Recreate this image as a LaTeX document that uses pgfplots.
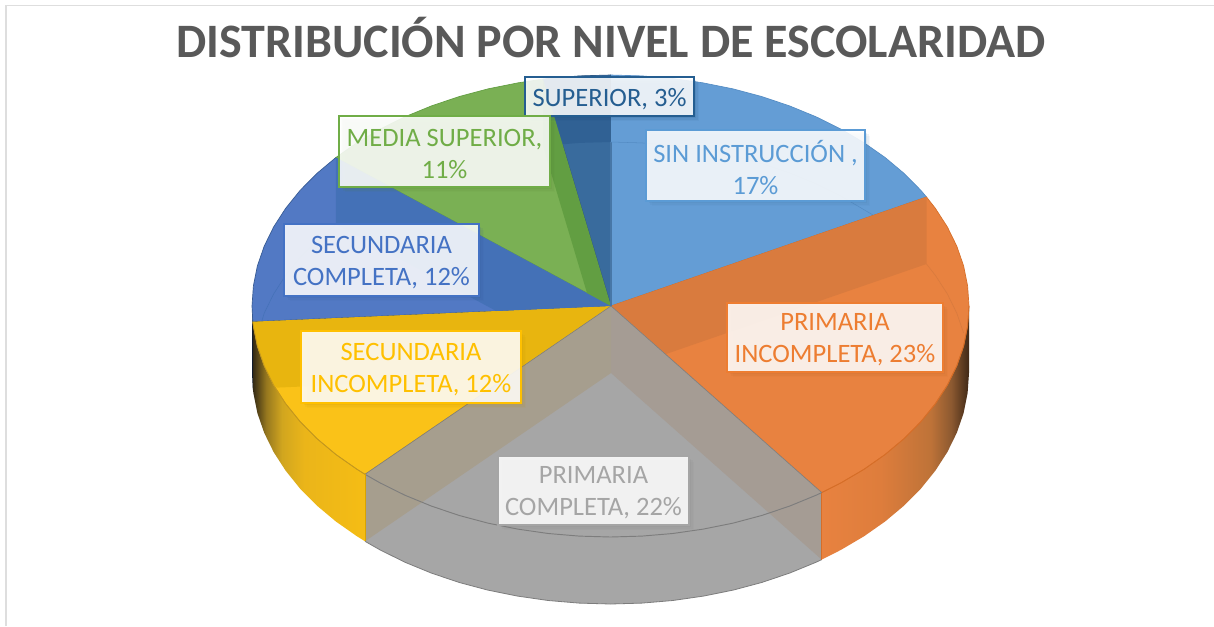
\documentclass[border=0pt]{standalone}
\usepackage{pgfplots}
\pgfplotsset{compat=1.18}
\usepackage{fontspec}
\setmainfont{Carlito}
\usetikzlibrary{shadows}
\definecolor{cBlue}{RGB}{100,157,213}
\definecolor{cBlueE}{RGB}{84,140,196}
\definecolor{cOrange}{RGB}{232,130,64}
\definecolor{cOrangeD}{RGB}{217,123,62}
\definecolor{cOrangeE}{RGB}{214,110,40}
\definecolor{cGray}{RGB}{166,166,166}
\definecolor{cGrayE}{RGB}{125,125,125}
\definecolor{cYellow}{RGB}{250,194,24}
\definecolor{cYellowD}{RGB}{232,181,15}
\definecolor{cYellowE}{RGB}{196,152,30}
\definecolor{cNavy}{RGB}{68,113,183}
\definecolor{cNavyL}{RGB}{82,121,196}
\definecolor{cGreen}{RGB}{122,176,84}
\definecolor{cGreenD}{RGB}{98,158,66}
\definecolor{cDark}{RGB}{57,107,157}
\definecolor{cDarkU}{RGB}{48,97,148}
\definecolor{cTaupeR}{RGB}{165,156,148}
\definecolor{cTaupeL}{RGB}{166,158,142}
\definecolor{tBlue}{RGB}{91,155,213}
\definecolor{tOrange}{RGB}{237,125,49}
\definecolor{tGray}{RGB}{165,165,165}
\definecolor{tYellow}{RGB}{255,192,0}
\definecolor{tNavy}{RGB}{68,114,196}
\definecolor{tGreen}{RGB}{112,173,71}
\definecolor{tDark}{RGB}{37,94,145}
\definecolor{tTitle}{RGB}{89,89,89}
\pgfdeclarehorizontalshading{orangeside}{100bp}{rgb(0bp)=(.91,.51,.25); rgb(25bp)=(.91,.51,.25); rgb(45bp)=(.87,.49,.235); rgb(62bp)=(.745,.45,.22); rgb(69bp)=(.55,.35,.19); rgb(75bp)=(.25,.16,.09); rgb(100bp)=(.25,.16,.09)}
\pgfdeclarehorizontalshading{yellowside}{100bp}{rgb(0bp)=(.2,.16,.08); rgb(25bp)=(.2,.16,.08); rgb(31bp)=(.59,.47,.12); rgb(38bp)=(.82,.65,.12); rgb(48bp)=(.92,.71,.1); rgb(75bp)=(.96,.74,.08); rgb(100bp)=(.96,.74,.08)}
\tikzset{lab/.style={rectangle,inner sep=0pt,outer sep=0pt,fill=white,fill opacity=.87,draw opacity=1,line width=1.8pt}}
\newcommand\lab[6]{\node[lab,draw=#5,minimum width=#3*0.75pt-1.8pt,minimum height=#4*0.75pt-1.8pt,
 drop shadow={shadow xshift=1pt,shadow yshift=-1pt,fill=#5!75!black,opacity=.1},
 drop shadow={shadow xshift=2pt,shadow yshift=-2pt,fill=#5!75!black,opacity=.1},
 drop shadow={shadow xshift=3pt,shadow yshift=-3pt,fill=#5!75!black,opacity=.08},
 drop shadow={shadow xshift=4pt,shadow yshift=-4pt,fill=#5!75!black,opacity=.05}] at (axis cs:#1,#2) {};
 \node[text=#5,align=center,inner sep=0pt,font=\fontsize{19.9}{24}\selectfont] at (axis cs:#1,#2+2.5) {#6};}
\begin{document}
\begin{tikzpicture}
\begin{axis}[scale only axis,width=910.5pt,height=469.5pt,xmin=0,xmax=1214,ymin=0,ymax=626,y dir=reverse,hide axis,clip=true]
% background
\addplot[fill=white,draw=none] coordinates {(0,0)(1214,0)(1214,626)(0,626)} --cycle;
\addplot[draw=black!13,line width=1.1pt] coordinates {(6,626)(6,5.5)(1214,5.5)};
% side walls
\addplot[fill=cGray,draw=none] coordinates {(821.7,492.6)(821.7,559.6)(816.1,562.2)(789.8,573)(762,582.4)(733.1,590.1)(703.3,596.1)(672.7,600.5)(641.8,603.1)(610.5,604)(579.2,603.1)(548.3,600.5)(517.7,596.1)(487.9,590.1)(459,582.4)(431.2,573)(404.9,562.2)(380.1,549.9)(365,541.3)(365,474.3)} --cycle;
\addplot[shading=orangeside,draw=none] coordinates {(821.7,492.6)(821.7,559.6)(840.9,549.9)(864,536.3)(885.1,521.5)(904.2,505.5)(921,488.5)(935.4,470.6)(947.4,452)(956.8,432.8)(963.6,413.1)(967.6,393.1)(969,373)(969,306)} --cycle;
\addplot[shading=yellowside,draw=none] coordinates {(365,474.3)(365,541.3)(357,536.3)(335.9,521.5)(316.8,505.5)(300,488.5)(285.6,470.6)(273.6,452)(264.2,432.8)(257.4,413.1)(253.4,393.1)(252.8,388.7)(252.8,321.7)} --cycle;
\addplot[fill=black!75!cNavy,draw=none] coordinates {(252.8,321.7)(252.8,388.7)(252,373)(252,306)} --cycle;
% bottom outline
\addplot[draw=cGrayE,line width=.6pt] coordinates {(821.7,559.6)(816.1,562.2)(789.8,573)(762,582.4)(733.1,590.1)(703.3,596.1)(672.7,600.5)(641.8,603.1)(610.5,604)(579.2,603.1)(548.3,600.5)(517.7,596.1)(487.9,590.1)(459,582.4)(431.2,573)(404.9,562.2)(380.1,549.9)(365,541.3)};
% top slices
\addplot[fill=cBlue,draw=cBlueE,line width=.5pt] coordinates {(611,306)(610.5,75)(641.8,75.9)(672.7,78.5)(703.3,82.9)(733.1,88.9)(762,96.6)(789.8,106)(816.1,116.8)(840.9,129.1)(864,142.7)(885.1,157.5)(904.2,173.5)(921,190.5)(926.5,197)} --cycle;
\addplot[fill=cOrange,draw=cOrangeE,line width=.5pt] coordinates {(611,306)(926.5,197)(935.4,208.4)(947.4,227)(956.8,246.2)(963.6,265.9)(967.6,285.9)(969,306)(967.6,326.1)(963.6,346.1)(956.8,365.8)(947.4,385)(935.4,403.6)(921,421.5)(904.2,438.5)(885.1,454.5)(864,469.3)(840.9,482.9)(821.7,492.6)} --cycle;
\addplot[fill=cGray,draw=none] coordinates {(611,306)(821.7,492.6)(816.1,495.2)(789.8,506)(762,515.4)(733.1,523.1)(703.3,529.1)(672.7,533.5)(641.8,536.1)(610.5,537)(579.2,536.1)(548.3,533.5)(517.7,529.1)(487.9,523.1)(459,515.4)(431.2,506)(404.9,495.2)(380.1,482.9)(365,474.3)} --cycle;
\addplot[fill=cYellow,draw=cYellowE,line width=.5pt] coordinates {(611,306)(365,474.3)(357,469.3)(335.9,454.5)(316.8,438.5)(300,421.5)(285.6,403.6)(273.6,385)(264.2,365.8)(257.4,346.1)(253.4,326.1)(252.8,321.7)} --cycle;
\addplot[fill=cNavyL,draw=cNavy!80!black,line width=.5pt] coordinates {(611,306)(252.8,321.7)(252,306)(253.4,285.9)(257.4,265.9)(264.2,246.2)(273.6,227)(285.6,208.4)(300,190.5)(316.8,173.5)(335.9,157.5)} --cycle;
\addplot[fill=cGreen,draw=cGreenD,line width=.5pt] coordinates {(611,306)(335.9,157.5)(357,142.7)(380.1,129.1)(404.9,116.8)(431.2,106)(459,96.6)(487.9,88.9)(517.7,82.9)(543,79.1)} --cycle;
\addplot[fill=cDark,draw=cDark!80!black,line width=.5pt] coordinates {(611,306)(543,79.1)(548.3,78.5)(579.2,75.9)(610.5,75)} --cycle;
% walls seen through the top
\addplot[fill=cDarkU,draw=none] coordinates {(543,79.1)(548.3,78.5)(579.2,75.9)(610.5,75)(610.5,142)(579.2,142.9)(548.3,145.5)(543,146.1)} --cycle;
\addplot[fill=cOrangeD,draw=none] coordinates {(611,306)(926.5,197)(926.5,264)(665.5,354.2)} --cycle;
\addplot[fill=cYellowD,draw=none] coordinates {(611,306)(252.8,321.7)(253.4,326.1)(257.4,346.1)(264.2,365.8)(273.6,385)(277,387.6)(506.4,377.6)} --cycle;
\addplot[fill=cNavy,draw=none] coordinates {(611,306)(335.9,157.5)(335.9,224.5)(496.2,311)} --cycle;
\addplot[fill=cGreenD,draw=none] coordinates {(611,306)(543,79.1)(543,146.1)(587,293)} --cycle;
\addplot[fill=cTaupeR,draw=none] coordinates {(611,306)(821.7,492.6)(821.7,559.6)(611,373)} --cycle;
\addplot[fill=cTaupeL,draw=none] coordinates {(611,306)(365,474.3)(365,541.3)(611,373)} --cycle;
\addplot[draw=cGrayE,line width=.4pt] coordinates {(821.7,492.6)(611,306)(365,474.3)};
% edges over the walls
\addplot[draw=cBlueE!85!black,line width=.8pt] coordinates {(611,142)(611,306)};
\addplot[draw=cBlueE,line width=.4pt] coordinates {(610.5,142)(641.8,142.9)(672.7,145.5)(703.3,149.9)(733.1,155.9)(762,163.6)(789.8,173)(816.1,183.8)(840.9,196.1)(864,209.7)(873,215)};
\addplot[draw=cOrangeD,line width=.5pt] coordinates {(926.5,264)(935.4,275.4)(947.4,294)(956.8,313.2)(963.6,332.9)};
\addplot[draw=cNavy,line width=.4pt] coordinates {(262,320.5)(264.2,313.2)(273.6,294)(285.6,275.4)(300,257.5)(316.8,240.5)(335.9,224.5)};
% front rim
\addplot[draw=cOrangeE,line width=.6pt] coordinates {(821.7,492.6)(840.9,482.9)(864,469.3)(885.1,454.5)(904.2,438.5)(921,421.5)(935.4,403.6)(947.4,385)(956.8,365.8)(963.6,346.1)(967.6,326.1)(969,306)};
\addplot[draw=cGrayE,line width=.7pt] coordinates {(821.7,492.6)(816.1,495.2)(789.8,506)(762,515.4)(733.1,523.1)(703.3,529.1)(672.7,533.5)(641.8,536.1)(610.5,537)(579.2,536.1)(548.3,533.5)(517.7,529.1)(487.9,523.1)(459,515.4)(431.2,506)(404.9,495.2)(380.1,482.9)(365,474.3)};
\addplot[draw=cYellowE,line width=.6pt] coordinates {(365,474.3)(357,469.3)(335.9,454.5)(316.8,438.5)(300,421.5)(285.6,403.6)(273.6,385)(264.2,365.8)(257.4,346.1)(253.4,326.1)(252.8,321.7)};
\addplot[draw=cOrangeE,line width=.5pt] coordinates {(821.7,492.6)(821.7,559.6)};
\addplot[draw=tYellow!85!black,line width=.5pt] coordinates {(365,474.3)(365,541.3)};
% title
\node[text=tTitle,font=\fontsize{36}{40}\selectfont\bfseries] at (axis cs:611,38) {DISTRIBUCIÓN POR NIVEL DE ESCOLARIDAD};
% labels
\lab{609.5}{96.5}{171}{41}{tDark}{SUPERIOR, 3\%}
\lab{444.5}{151.5}{213}{73}{tGreen}{MEDIA SUPERIOR,\\11\%}
\lab{381.5}{260}{197}{74}{tNavy}{SECUNDARIA\\COMPLETA, 12\%}
\lab{755.5}{165.5}{221}{73}{tBlue}{SIN INSTRUCCIÓN ,\\17\%}
\lab{835}{337.5}{218}{71}{tOrange}{PRIMARIA\\INCOMPLETA, 23\%}
\lab{411}{367}{222}{74}{tYellow}{SECUNDARIA\\INCOMPLETA, 12\%}
\lab{593.5}{490.5}{193}{71}{tGray}{PRIMARIA\\COMPLETA, 22\%}
\end{axis}
\end{tikzpicture}
\end{document}
